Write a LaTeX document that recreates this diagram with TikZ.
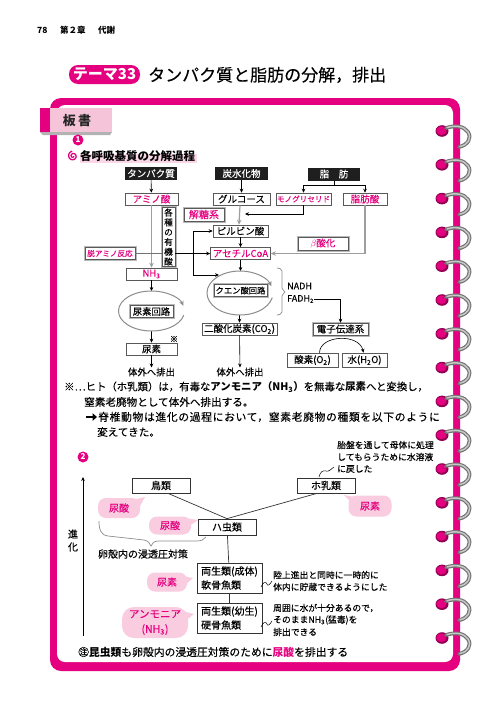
\documentclass[tikz,border=0pt]{standalone}
\usepackage{fontspec}
\setmainfont{Noto Sans CJK JP}[UprightFeatures={FakeBold=0.15}]
\usetikzlibrary{arrows.meta,calc}
\definecolor{mg}{HTML}{E4007F}
\definecolor{pk}{HTML}{F9CCE0}
\definecolor{tabpk}{HTML}{F5C4D9}
\newcommand{\fsz}[1]{\fontsize{#1}{#1}\selectfont}
\begin{document}
\begin{tikzpicture}[x=1pt,y=-1pt,
  blk/.style={fill=black!88,text=white,minimum height=13pt,inner sep=0pt,font=\fsz{9.5}},
  bx/.style={draw=black!65,fill=white,line width=0.6pt,minimum height=12pt,inner sep=0pt,font=\fsz{9.5}},
  btn/.style={draw=black!65,fill=white,line width=0.5pt,minimum height=12pt,inner sep=0pt,font=\fsz{9.5},preaction={draw=black!28,line width=3pt}},
  ar/.style={-{Stealth[length=4pt,width=3.6pt]},line width=0.6pt},
  gar/.style={-{Stealth[length=5pt,width=4.5pt]},line width=1.2pt,draw=black!38},
  bx2/.style={draw=black!80,fill=white,line width=0.7pt,inner sep=0pt,font=\fsz{10}},
  bub/.style={fill=pk,rounded corners=8pt,inner sep=0pt,text=mg,font=\fsz{10}},
  ann/.style={anchor=west,inner sep=0pt,font=\fsz{8.8}},
  tx/.style={anchor=west,inner sep=0pt,font=\fsz{10.6}},
  ell/.style={draw=black!45,line width=1pt,-{Stealth[length=5pt,width=4.5pt]}},
]
\useasboundingbox (0,0) rectangle (500,723);
\fill[white] (0,0) rectangle (500,723);

% ---------- header ----------
\node[anchor=west,inner sep=0,font=\bfseries\fsz{8.5}] (pg) at (37,30) {78};
\node[anchor=west,inner sep=0,font=\bfseries\fsz{8.5}] (ch) at (60,30) {第２章};
\node[anchor=west,inner sep=0,font=\bfseries\fsz{8.5}] (chb) at (98,30) {代謝};

% ---------- title ----------
\node[fill=mg,rounded corners=9pt,minimum width=71pt,minimum height=19pt,inner sep=0,text=white,font=\bfseries\fsz{15}] (theme) at (104.5,74.5) {テーマ33};
\node[anchor=west,inner sep=0,font=\fsz{17}] (title) at (148,75) {タンパク質と脂肪の分解，排出};

% ---------- frame ----------
\fill[mg,rounded corners=11pt] (50,98) rectangle (460,671);
\fill[white,rounded corners=8pt] (57,105) rectangle (453,662);

% rings
\foreach \i in {0,...,15}{
  \pgfmathsetmacro{\yy}{131+33.8*\i}
  \fill[mg!65!black] (442,\yy) circle[x radius=6.5, y radius=5.8];
  \fill[mg] (441.3,\yy-0.3) circle[x radius=5, y radius=4.3];
  \draw[black!55,line width=3.8pt,line cap=round] (446,\yy-3) .. controls (455,\yy-6) and (464,\yy-5) .. (468,\yy+1) .. controls (472,\yy+7) and (468,\yy+14) .. (459,\yy+16);
  \draw[black!22,line width=1.5pt,line cap=round] (447,\yy-3.4) .. controls (455,\yy-6) and (464,\yy-5) .. (468,\yy+1) .. controls (472,\yy+7) and (468,\yy+14) .. (460,\yy+15.5);
}

% tab
\fill[black!30] (40,132) -- (112,132) -- (110,135) -- (43,135) -- cycle;
\fill[mg] (40,108) rectangle (50,132);
\fill[tabpk] (50,108) rectangle (112,132);
\node[font=\bfseries\fsz{13},text=black!85] (itab) at (77,121) {板\,書};

% ---------- section 1 ----------
\node[circle,fill=mg,text=white,inner sep=0,minimum size=11pt,font=\bfseries\fsz{8}] (n1) at (78,140) {1};
\draw[mg,line width=1.3pt] plot[domain=0:620,samples=60,variable=\t] ({73+(0.6+\t/145)*cos(\t)},{156+(0.6+\t/145)*sin(\t)});
\fill[pk!80] (80,154) rectangle (197,163);
\node[anchor=west,inner sep=0,font=\bfseries\fsz{11.5}] (sec1) at (80,156) {各呼吸基質の分解過程};

% flow chart
\node[blk,minimum width=52pt] (tan) at (151,173.5) {タンパク質};
\node[blk,minimum width=53pt] (tansui) at (241.5,173.5) {炭水化物};
\node[blk,minimum width=52pt] (shibo) at (334,174) {脂\quad 肪};
\node[bx,minimum width=53pt,text=mg] (amino) at (151.5,199) {アミノ酸};
\node[bx,minimum width=57pt] (glu) at (241.5,199) {グルコース};
\node[bx,minimum width=55pt,text=mg,font=\fsz{7.6}] (mono) at (303.5,199) {モノグリセリド};
\node[bx,minimum width=44pt,text=mg] (fa) at (365,199) {脂肪酸};
\node[btn,minimum width=40pt,minimum height=13pt,text=mg,font=\fsz{10}] (kaito) at (204,214.5) {解糖系};
\node[bx,minimum width=55pt] (pyr) at (240.5,231) {ピルビン酸};
\node[bx,minimum width=60pt,text=mg] (acoa) at (240.5,253.5) {アセチルCoA};
\node[btn,minimum width=50pt,minimum height=13pt,text=mg] (beta) at (323,243.5) {$\beta$酸化};
\node[btn,minimum width=50pt,text=mg,font=\fsz{7.6}] (datsu) at (110,253.5) {脱アミノ反応};
\node[btn,minimum width=13pt,minimum height=59pt,font={\fontsize{8.6}{9.8}\selectfont},align=center] (yuki) at (168.5,237) {各\\種\\の\\有\\機\\酸};
\node[bx,minimum width=51pt,text=mg] (nh3) at (151.5,274) {NH\textsubscript{3}};
\node[btn,minimum width=43pt,font=\fsz{9.3}] (ukai) at (151.5,311.5) {尿素回路};
\node[bx,minimum width=51pt] (nyoso) at (151.5,349) {尿素};
\node[font=\fsz{8},inner sep=0] (kome) at (174,339) {※};
\node[font=\fsz{9.4},inner sep=0] (hai1) at (151.5,372) {体外へ排出};
\node[btn,minimum width=53pt,font=\fsz{8.3}] (kuen) at (240.5,290.5) {クエン酸回路};
\node[bx,minimum width=75pt] (co2) at (239.5,329) {二酸化炭素(CO\textsubscript{2})};
\node[font=\fsz{9.4},inner sep=0] (hai2) at (240,372) {体外へ排出};
\node[anchor=west,inner sep=0,font=\fsz{9}] (nadh) at (287,286) {NADH};
\node[anchor=west,inner sep=0,font=\fsz{9}] (fadh) at (287,299) {FADH\textsubscript{2}};
\node[btn,minimum width=55pt,font=\fsz{9.5}] (denshi) at (340.5,329) {電子伝達系};
\node[bx,minimum width=51pt,minimum height=14pt] (o2) at (312.5,360) {酸素(O\textsubscript{2})};
\node[bx,minimum width=45pt,minimum height=14pt] (h2o) at (364.5,360) {水(H\textsubscript{2}O)};

\coordinate (sj) at (334,185);
\coordinate (mj) at (245,214);
\coordinate (ctop) at (240.5,271);
\coordinate (cbot) at (239.5,315);
\coordinate (cleft) at (219,275);
\coordinate (vt) at (193,231);
\coordinate (vb) at (193,275);
\coordinate (utop) at (151.5,291);
\coordinate (ubot) at (151.5,331);

\draw[ar] (tan) -- (amino);
\draw[ar] (tansui) -- (glu);
\draw[line width=0.6pt] (shibo.south) -- (sj);
\draw[ar] (sj) -| (mono.north);
\draw[ar] (sj) -| (fa.north);
\draw[ar] (mono.south) |- (mj);
\draw[gar] ([xshift=-1.5pt]glu.south) -- ([xshift=-1.5pt]pyr.north);
\draw[ar] (pyr) -- (acoa);
\draw[gar] (fa.south) |- (acoa.east);
\draw[ar] (acoa.south) -- (ctop);
\draw[gar] (amino) -- (nh3);
\draw[black!55,line width=0.8pt] (datsu.east) -- (yuki.west |- datsu.east);
\draw[ar] (yuki.east |- acoa.west) -- (acoa.west);
\draw[line width=0.6pt] (vt) -- (vb);
\draw[ar] (vt) -- (pyr.west);
\draw[ar] (vb) -- (cleft);
\draw[ar] (nh3) -- (utop);
\draw[ar] (ubot) -- (nyoso);
\draw[ar] (nyoso) -- (hai1);
\draw[ar] (cbot) -- (co2);
\draw[ar] (co2) -- (hai2);
\draw[ell] ($(151.5,311)+(12:33 and 20)$) arc[start angle=12,end angle=345,x radius=33,y radius=20];
\draw[ell] ($(240,293)+(12:33 and 22)$) arc[start angle=12,end angle=342,x radius=33,y radius=22];
\draw[black!45,line width=0.7pt,rounded corners=2pt] (277,268) -- (282,269) -- (282,290) -- (286,292) -- (282,294) -- (282,314) -- (277,315);
\draw[ar] (fadh.east) -| (denshi.north);
\draw[ar] ([xshift=7pt]o2.north) .. controls (320,335) and (359,333) .. ([xshift=-1pt]h2o.north);

% explanation text
\node[tx,font=\fsz{10.4}] (t1) at (64,387) {※…ヒト（ホ乳類）は，有毒な{\bfseries アンモニア（NH\textsubscript{3}）}を無毒な{\bfseries 尿素}へと変換し，};
\node[tx] (t2) at (84,402) {窒素老廃物として体外へ排出する。};
\coordinate (aa) at (86,417);
\coordinate (ab) at (97,417);
\draw[line width=2.4pt,-{Triangle[length=4.5pt,width=7.5pt]}] (aa) -- (ab);
\node[tx,font=\fsz{10.8}\addfontfeature{LetterSpace=6}] (t3) at (98,417) {脊椎動物は進化の過程において，窒素老廃物の種類を以下のように};
\node[tx] (t4) at (97,432) {変えてきた。};

% ---------- section 2 ----------
\node[circle,fill=mg,text=white,inner sep=0,minimum size=11pt,font=\bfseries\fsz{8}] (n2) at (83,457) {2};
\node[ann] (a1) at (337,445) {胎盤を通して母体に処理};
\node[ann] (a2) at (337,457) {してもらうために水溶液};
\node[ann] (a3) at (337,469) {に戻した};

\coordinate (evb) at (83,636);
\coordinate (evt) at (83,477);
\draw[ar] (evb) -- (evt);
\node[font=\fsz{10},inner sep=0] (shin) at (73,534) {進};
\node[font=\fsz{10},inner sep=0] (ka) at (73,547) {化};

\node[bx2,minimum width=58pt,minimum height=15pt] (tori) at (161,485.5) {鳥類};
\node[bx2,minimum width=58pt,minimum height=15pt] (hon) at (326,485.5) {ホ乳類};
\node[bx2,minimum width=58pt,minimum height=16pt] (ha) at (227,527) {ハ虫類};
\node[bx2,minimum width=65pt,minimum height=30pt,align=left,font={\fontsize{10}{14}\selectfont}] (ryo1) at (229.5,578) {両生類(成体)\\軟骨魚類};
\node[bx2,minimum width=65pt,minimum height=30pt,align=left,font={\fontsize{10}{14}\selectfont}] (ryo2) at (229.5,618) {両生類(幼生)\\硬骨魚類};

\draw[black!80,line width=0.7pt] ([xshift=7pt]tori.south) -- (ha.north);
\draw[black!80,line width=0.7pt] ([xshift=-9pt]hon.south) -- (ha.north);
\draw[black!80,line width=0.7pt] (ha) -- (ryo1);
\draw[black!80,line width=0.7pt] (ryo1) -- (ryo2);

% brace
\draw[black!45,line width=0.7pt] (99,521) .. controls (99,530) and (101,535) .. (108,536) -- (144,540) .. controls (148,541) and (150,543) .. (151,546) .. controls (152,543) and (154,541) .. (159,541) -- (196,541) .. controls (201,541) and (204,540) .. (206,537);
\node[font=\fsz{10},inner sep=0] (ranka) at (143,554) {卵殻内の浸透圧対策};

% bubbles
\fill[pk] (132,500) -- (145,497) -- (139,508) -- cycle;
\node[bub,minimum width=42pt,minimum height=20pt] (b1) at (119,508) {尿酸};
\fill[pk] (352,503) -- (344,495) -- (359,498) -- cycle;
\node[bub,minimum width=43pt,minimum height=21pt] (b5) at (370,506) {尿素};
\fill[pk] (185,518) -- (198,520) -- (188,527) -- cycle;
\node[bub,minimum width=42pt,minimum height=18pt] (b2) at (170,525.5) {尿酸};
\fill[pk] (183,576) -- (193,578) -- (184,586) -- cycle;
\node[bub,minimum width=40pt,minimum height=19pt] (b3) at (167,582) {尿素};
\fill[pk] (182,611) -- (194,614) -- (184,622) -- cycle;
\node[bub,minimum width=66pt,minimum height=31pt,rounded corners=12pt,align=center,font={\fontsize{10.5}{15}\selectfont}] (b4) at (155,622.5) {アンモニア\\(NH\textsubscript{3})};

% annotations
\draw[line width=0.5pt] (319,477) .. controls (320,472) and (323,470) .. (326,471) .. controls (329,472) and (331,469) .. (334,467);
\draw[line width=0.5pt] (261,587) .. controls (263,582) and (266,581) .. (267,584) .. controls (268,587) and (270,584) .. (272,581);
\draw[line width=0.5pt] (261,627) .. controls (263,622) and (266,621) .. (267,624) .. controls (268,627) and (270,624) .. (272,621);
\node[ann] (r1) at (273,575) {陸上進出と同時に一時的に};
\node[ann] (r2) at (273,587) {体内に貯蔵できるようにした};
\node[ann] (r3) at (273,608) {周囲に水が十分あるので，};
\node[ann] (r4) at (273,620) {そのままNH\textsubscript{3}(猛毒)を};
\node[ann] (r5) at (273,632) {排出できる};

\node[tx,font=\fsz{10.8}] (note) at (78,652) {㊟{\bfseries 昆虫類}も卵殻内の浸透圧対策のために{\color{mg}\bfseries 尿酸}を排出する};
\end{tikzpicture}
\end{document}
